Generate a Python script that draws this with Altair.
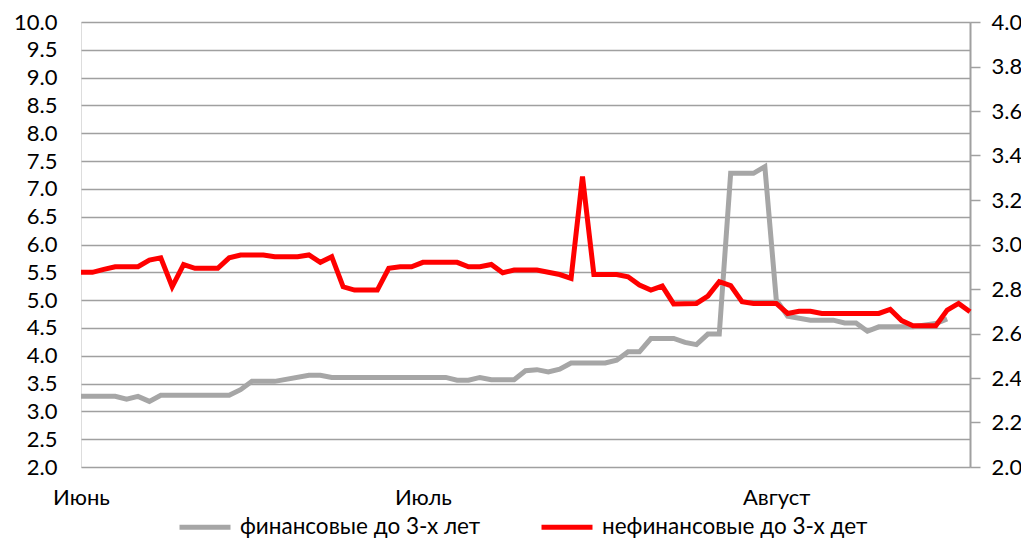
import altair as alt
import pandas as pd

gray_name = "финансовые до 3-х лет"
red_name = "нефинансовые до 3-х дет"
month_labels = ["Июнь", "Июль", "Август"]
start = "2013-06-01"

# day offsets from 1 June, values on the left axis
gray_days = [0, 3, 4, 5, 6, 7, 13, 14, 15, 17, 20, 21, 22, 32, 33, 34, 35, 36, 38, 39,
             40, 41, 42, 43, 46, 47, 48, 49, 50, 52, 53, 54, 55, 56, 57, 59, 60, 61, 62,
             64, 66, 67, 68, 69, 70, 73, 75, 76]
gray_vals = [3.27, 3.27, 3.22, 3.27, 3.18, 3.29, 3.29, 3.39, 3.54, 3.54, 3.65, 3.65, 3.61,
             3.61, 3.56, 3.56, 3.61, 3.57, 3.57, 3.73, 3.75, 3.71, 3.76, 3.87, 3.87, 3.92,
             4.07, 4.07, 4.31, 4.31, 4.24, 4.20, 4.39, 4.39, 7.28, 7.28, 7.40, 5.01, 4.71,
             4.64, 4.64, 4.59, 4.59, 4.44, 4.52, 4.52, 4.58, 4.66]

# day offsets from 1 June, values on the right axis
red_days = [0, 1, 2, 3, 5, 6, 7, 8, 9, 10, 12, 13, 14, 16, 17, 19, 20, 21, 22, 23, 24, 26,
            27, 28, 29, 30, 33, 34, 35, 36, 37, 38, 40, 42, 43, 44, 45, 47, 48, 49, 50, 51,
            52, 54, 55, 56, 57, 58, 59, 61, 62, 63, 64, 65, 70, 71, 72, 73, 75, 76, 77, 78]
red_vals = [2.875, 2.875, 2.888, 2.90, 2.90, 2.93, 2.94, 2.81, 2.91, 2.893, 2.893, 2.94,
            2.953, 2.953, 2.945, 2.945, 2.953, 2.92, 2.945, 2.81, 2.795, 2.795, 2.893, 2.90,
            2.90, 2.92, 2.92, 2.90, 2.90, 2.91, 2.873, 2.885, 2.885, 2.865, 2.848, 3.305,
            2.865, 2.865, 2.855, 2.818, 2.795, 2.813, 2.733, 2.735, 2.768, 2.833, 2.815,
            2.743, 2.735, 2.735, 2.69, 2.70, 2.70, 2.69, 2.69, 2.708, 2.658, 2.635, 2.635,
            2.705, 2.735, 2.698]

left_ticks = [2.0 + 0.5 * i for i in range(17)]
right_ticks = [2.0 + 0.2 * i for i in range(11)]


def to_dates(days):
    d = pd.Timestamp(start) + pd.to_timedelta(days, unit="D")
    return [x.strftime("%Y-%m-%d") for x in d]


gray_df = pd.DataFrame({"date": to_dates(gray_days), "value": gray_vals, "series": gray_name})
red_df = pd.DataFrame({"date": to_dates(red_days), "value": red_vals, "series": red_name})

FONT = "Lato"
FS = 22

x_enc = alt.X(
    "date:T",
    scale=alt.Scale(type="utc",
                    domain=[alt.DateTime(year=2013, month=6, date=1, utc=True),
                            alt.DateTime(year=2013, month=8, date=18, utc=True)]),
    axis=alt.Axis(
        title=None,
        values=[alt.DateTime(year=2013, month=6, date=1, utc=True),
                alt.DateTime(year=2013, month=7, date=1, utc=True),
                alt.DateTime(year=2013, month=8, date=1, utc=True)],
        labelExpr="['Июнь','Июль','Август'][utcmonth(datum.value) - 5]",
        grid=False, domain=False, ticks=False, labelFlush=False,
        labelPadding=20, labelFontSize=FS, labelColor="#000000", labelFont=FONT,
    ),
)

color_enc = alt.Color(
    "series:N",
    scale=alt.Scale(domain=[gray_name, red_name], range=["#a6a6a6", "#ff0000"]),
    legend=alt.Legend(
        title=None, orient="none", legendX=96, legendY=477, direction="horizontal",
        symbolType="stroke", symbolSize=2600, symbolStrokeWidth=5,
        labelFontSize=22.5, labelFont=FONT, labelColor="#000000", labelOffset=7,
        columnPadding=50, labelLimit=0, padding=0,
    ),
)

gray = alt.Chart(gray_df).mark_line(strokeWidth=5).encode(
    x=x_enc,
    y=alt.Y("value:Q", scale=alt.Scale(domain=[2, 10], nice=False, zero=False),
            axis=alt.Axis(title=None, values=left_ticks, format=".1f", grid=True,
                          gridColor="#a0a0a0", gridWidth=1.5, domain=False, ticks=False,
                          labelPadding=24, labelFontSize=FS, labelFont=FONT,
                          labelColor="#000000")),
    color=color_enc,
)

red = alt.Chart(red_df).mark_line(strokeWidth=5).encode(
    x=x_enc,
    y=alt.Y("value:Q", scale=alt.Scale(domain=[2, 4], nice=False, zero=False),
            axis=alt.Axis(title=None, orient="right", values=right_ticks, format=".1f",
                          grid=False, domain=True, domainColor="#a0a0a0", domainWidth=2,
                          ticks=True, tickSize=10, tickColor="#a0a0a0", tickWidth=1.5,
                          labelPadding=11, labelFontSize=FS, labelFont=FONT,
                          labelColor="#000000")),
    color=color_enc,
)

chart = (
    alt.layer(gray, red)
    .resolve_scale(y="independent")
    .properties(
        width=889, height=445,
        autosize=alt.AutoSizeParams(type="none"),
        padding={"left": 73, "top": 14, "right": 51, "bottom": 71},
        background="#ffffff",
    )
    .configure_view(stroke=None)
    .configure(font=FONT)
)

chart.save("out.html", embed_options={"renderer": "svg", "actions": False})
